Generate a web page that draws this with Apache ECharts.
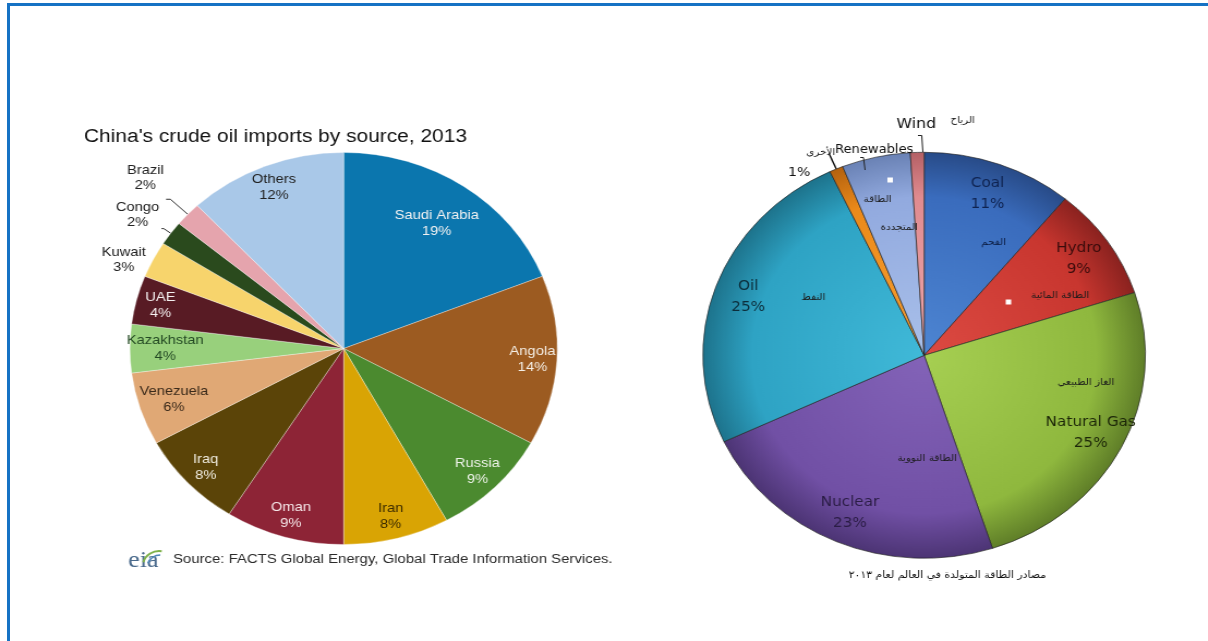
<!DOCTYPE html>
<html><head><meta charset="utf-8">
<script src="https://cdn.jsdelivr.net/npm/echarts@6/dist/echarts.min.js"></script>
<style>
html,body{margin:0;padding:0;background:#fff;width:1208px;height:641px;overflow:hidden;}
#chart{position:absolute;left:0;top:0;width:1108px;height:641px;transform:scaleX(1.0902);transform-origin:0 0;}
#frame{position:absolute;left:7px;top:3px;width:1201px;height:638px;border-top:3px solid #1672c4;border-left:3px solid #1672c4;box-sizing:border-box;}
</style></head>
<body><div id="chart"></div><div id="frame"></div>
<script>
// ---------- data ----------
const oilCountries = ['Saudi Arabia','Angola','Russia','Iran','Oman','Iraq','Venezuela','Kazakhstan','UAE','Kuwait','Congo','Brazil','Others'];
const oilShares = [19,14,9,8,9,8,6,4,4,3,2,2,12];
const oilTitle = "China's crude oil imports by source, 2013";
const oilSource = 'Source: FACTS Global Energy, Global Trade Information Services.';

const energySources = ['Coal','Hydro','Natural Gas','Nuclear','Oil','Other','Renewables','Wind'];
const energyShares = [11,9,25,23,25,1,5,1];
const energyArabic = ['الفحم','الطاقة المائية','الغاز الطبيعي','الطاقة النووية','النفط','الأخرى','الطاقة','المتجددة','الرياح'];
const energyCaption = 'مصادر الطاقة المتولدة في العالم لعام ٢٠١٣';

// ---------- styles ----------
const oilColors = ['#0b76ae','#9c5b21','#4b8a2f','#d9a404','#8d2436','#5b4408','#e0a875','#98d07c','#581b24','#f7d46c','#2a4a1d','#e5a4ad','#a9c8e8'];
const oilLabelColors = ['#f2f2f2','#f5efe6','#eef3ea','#3b2b00','#f5e6e8','#f0ece0','#3a2a1a','#244a24','#f5f0f0','#222','#222','#222','#222'];
const energyGrad = [
  ['#4d85d2','#3a6cbd','#284b88'],
  ['#dc4a42','#c8362f','#8a221f'],
  ['#a6cf52','#8fb83e','#5f7e28'],
  ['#8363b8','#7150a5','#4c3474'],
  ['#40b9d8','#2ea3c4','#1d738c'],
  ['#f5a035','#ec8a1a','#b4620f'],
  ['#a9c0ea','#92aadf','#6a82b5'],
  ['#eda6aa','#e08b90','#b46065']
];
const energyLabelColors = ['#0f2350','#3a0c0c','#1c2608','#2b1d45','#0c2d3a'];

const L = {cx: 315.2, cy: 348.5, r: 196};
const R = {cx: 847.7, cy: 355.3, r: 203};
const FL = '"Liberation Sans", Arial, sans-serif';
const FD = '"DejaVu Sans", Verdana, sans-serif';

const chart = echarts.init(document.getElementById('chart'), null, {renderer:'canvas'});

const outsideCfg = {
  'Kuwait': {length: 0, length2: 3, dist: 3, pad: [0,0,0,0], line: false, w: 42},
  'Congo':  {length: 8, length2: 2, dist: 2, pad: [0,0,28,0], line: true, w: 40},
  'Brazil': {length: 22, length2: 4, dist: 0, pad: [0,0,42,0], line: true, w: 38}
};
// inner label ring (fraction of radius where the label centre sits)
const oilLabelRing = {'Saudi Arabia':0.76, 'Venezuela':0.82, 'Kazakhstan':0.82};

const oilMain = {
  type:'pie', center:[L.cx, L.cy], radius:[0, L.r], startAngle:90, clockwise:true,
  avoidLabelOverlap:false, silent:true, animation:false,
  itemStyle:{borderColor:'rgba(255,255,255,0.55)', borderWidth:0.6},
  label:{show:false},
  labelLine:{show:false},
  data: oilCountries.map((n,i)=>{
    const it = {name:n, value:oilShares[i], itemStyle:{color:oilColors[i]}};
    const o = outsideCfg[n];
    if (o) {
      it.label = {show:true, position:'outside', distanceToLabelLine:o.dist, padding:o.pad,
        formatter:`{c|${n}}\n{c|${oilShares[i]}%}`,
        rich:{c:{width:o.w, align:'center', fontSize:13.5, lineHeight:15, color:oilLabelColors[i], fontFamily:FL}}};
      it.labelLine = {show:o.line, length:o.length, length2:o.length2, smooth:false, lineStyle:{color:'#333', width:1}};
    }
    return it;
  })
};

function labelPie(center, radius, names, values, showFn, labelStyleFn){
  return {
    type:'pie', center:center, radius:radius, startAngle:90, clockwise:true,
    avoidLabelOverlap:false, silent:true, animation:false, z:5,
    itemStyle:{color:'rgba(0,0,0,0)', borderWidth:0},
    labelLine:{show:false},
    emphasis:{disabled:true},
    data: names.map((n,i)=>({name:n, value:values[i],
      label: Object.assign({show: showFn(n,i), position:'inside'}, labelStyleFn(n,i))}))
  };
}

const oilLabelStyle = (n,i)=>({formatter:`${n}\n${oilShares[i]}%`, color:oilLabelColors[i], fontSize:13.5, lineHeight:16, fontFamily:FL});
const ringOf = (n)=> oilLabelRing[n] || 0.87;
const oilRings = [...new Set(oilCountries.filter(n=>!outsideCfg[n]).map(ringOf))];
const oilLabelSeries = oilRings.map(f=>labelPie([L.cx,L.cy],[(2*f-1)*L.r, L.r], oilCountries, oilShares,
  (n)=>!outsideCfg[n] && ringOf(n)===f, oilLabelStyle));

const energyMain = {
  type:'pie', center:[R.cx, R.cy], radius:[0, R.r], startAngle:90, clockwise:true,
  avoidLabelOverlap:false, silent:true, animation:false,
  itemStyle:{borderColor:'rgba(35,35,35,0.65)', borderWidth:1},
  label:{show:false}, labelLine:{show:false},
  data: energySources.map((n,i)=>{
    const g = energyGrad[i];
    const it = {name:n, value:energyShares[i], itemStyle:{color:{type:'radial', x:R.cx, y:R.cy, r:R.r, global:true,
      colorStops:[{offset:0,color:g[0]},{offset:0.78,color:g[1]},{offset:1,color:g[2]}]}}};
    if (n==='Other') {
      it.label = {show:true, position:'outside', formatter:`{p|${energyShares[i]}%}`, distanceToLabelLine:17, padding:[38,0,0,0],
        rich:{p:{color:'#111', fontSize:13, fontFamily:FD, lineHeight:16}}};
      it.labelLine = {show:true, length:17, length2:0, smooth:false, lineStyle:{color:'#111', width:1.4}};
    }
    return it;
  })
};
const energyLabelsMain = labelPie([R.cx,R.cy],[0.66*R.r, R.r], energySources, energyShares, (n,i)=>i<5,
  (n,i)=>({formatter:`${n}\n${energyShares[i]}%`, color:energyLabelColors[i]||'#111', fontSize:14, lineHeight:21, fontFamily:FD}));
const energyLabelsRen = labelPie([R.cx,R.cy],[R.r, 1.04*R.r], energySources, energyShares, (n)=>n==='Renewables',
  (n)=>({formatter:n, color:'#111', fontSize:12, fontFamily:FD}));
const energyLabelsWind = labelPie([R.cx,R.cy],[R.r, 1.25*R.r], energySources, energyShares, (n)=>n==='Wind',
  (n)=>({formatter:n, color:'#111', fontSize:14.5, fontFamily:FD}));

// annotation positions (chart pixels)
const notePos = [[911.5,243],[972.5,296],[996,383],[850.5,459],[746,298],[752.8,153],[805,200],[824.8,228],[883,121]];
const graphics = [
  {type:'text', x:77, y:137, style:{text:oilTitle, fontSize:19.2, fontFamily:FL, fill:'#111', align:'left', verticalAlign:'middle'}},
  {type:'text', x:158.7, y:559, style:{text:oilSource, fontSize:13.7, fontFamily:FL, fill:'#2a2a2a', align:'left', verticalAlign:'middle'}},
  {type:'text', x:117.5, y:561, style:{text:'eia', fontSize:24, fontFamily:'"Liberation Serif", "DejaVu Serif", serif', fill:'#4a6a8c', align:'left', verticalAlign:'middle'}},
  {type:'arc', shape:{cx:146, cy:566, r:15, startAngle:-Math.PI*0.92, endAngle:-Math.PI*0.45}, style:{stroke:'#7fb24a', lineWidth:2, fill:null}},
  {type:'arc', shape:{cx:147, cy:567, r:12, startAngle:-Math.PI*0.9, endAngle:-Math.PI*0.5}, style:{stroke:'#4f86b8', lineWidth:1.5, fill:null}},
  {type:'text', x:869, y:575, style:{text:energyCaption, fontSize:10, fontFamily:FD, fill:'#111', align:'center', verticalAlign:'middle'}},
  {type:'rect', shape:{x:814, y:177.5, width:5, height:5}, style:{fill:'#fff'}, z:10},
  {type:'rect', shape:{x:922.5, y:299.5, width:5, height:5}, style:{fill:'#fff'}, z:10},
  {type:'polyline', shape:{points:[[789,157.5],[792,157.5],[793.5,170]]}, style:{stroke:'#222', lineWidth:1, fill:null}, z:10},
  {type:'polyline', shape:{points:[[842,135.5],[845.5,135.5],[846.5,152]]}, style:{stroke:'#222', lineWidth:1, fill:null}, z:10}
];
energyArabic.forEach((t,i)=>{
  graphics.push({type:'text', x:notePos[i][0], y:notePos[i][1], z:10,
    style:{text:t, fontSize:9.5, fontFamily:FD, fill: i===0 ? '#0d1f45' : '#1b1b1b', align:'center', verticalAlign:'middle'}});
});

chart.setOption({
  animation:false,
  backgroundColor:'#fff',
  series:[oilMain].concat(oilLabelSeries, [energyMain, energyLabelsMain, energyLabelsRen, energyLabelsWind]),
  graphic: graphics
});
</script></body></html>
